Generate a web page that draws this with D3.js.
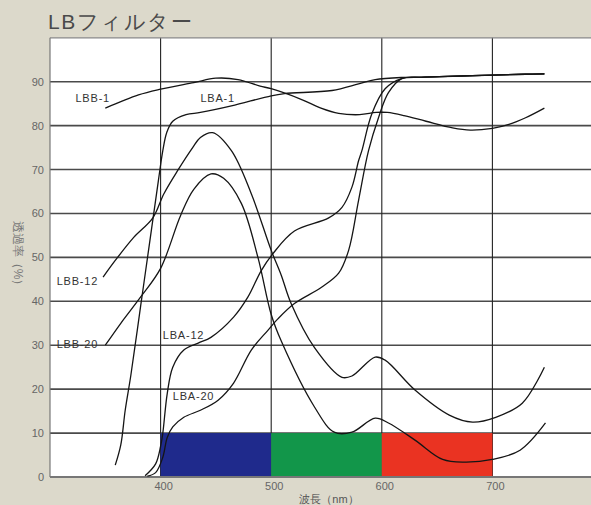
<!DOCTYPE html>
<html><head><meta charset="utf-8">
<script src="https://cdn.jsdelivr.net/npm/d3@7"></script>
<style>
html,body{margin:0;padding:0;background:#dcd9cb;}
svg{display:block;}
text{font-family:"Liberation Sans","DejaVu Sans",sans-serif;}
</style></head><body>
<svg id="c" width="591" height="505"></svg>
<script>
const title = "LBフィルター";
const xTitle = "波長（nm）";
const yTitle = "透過率（%）";
const xTicks = [400, 500, 600, 700];
const yTicks = [0, 10, 20, 30, 40, 50, 60, 70, 80, 90];

// wavelength (nm), transmittance (%)
const LBB1 = [[350,84],[380,87],[400,88.3],[430,89.8],[450,90.8],[470,90.5],[490,89],[500,88.4],[527,86],[545,84],[561,82.8],[580,82.5],[595,83],[605,83],[620,82.3],[640,81],[664,79.5],[680,79],[700,79.4],[715,80.3],[730,81.8],[747,84]];
const LBA1 = [[359,2.7],[364,7.3],[368,15.2],[373,23],[382,39],[391,55],[398,67.5],[402,74.3],[405.5,78.4],[411,81],[423,82.5],[436,83],[464,84.5],[500,86.8],[512,87.3],[555,88],[579,89.5],[594,90.5],[621,91],[645,91.1],[700,91.5],[730,91.7],[747,91.8]];
const LBB12 = [[348,45.5],[359,49.3],[375.5,54.5],[393,59],[403,64.5],[415.5,69.8],[429,75],[436,77.3],[447,78.4],[464,74.3],[482,64.5],[500,51.6],[509,46],[518,39.5],[539,29.5],[564,22.7],[573,23],[594,27.3],[603,26.6],[630,19.8],[661,14.1],[682,12.5],[703,13.6],[727,16.8],[747,25]];
const LBB20 = [[350,30],[364,35],[382,41],[400,47.5],[418,59.5],[430,65.5],[445.5,69],[457,68],[473,62.3],[488,50],[500,37],[509,31],[539,16],[557,10.2],[573,10.2],[594,13.4],[606,12.3],[630,8.4],[655,4],[675,3.4],[700,4],[725,6.1],[748,12.3]];
const LBA12 = [[386,0.3],[395.5,3],[400,7],[402,10],[406,19],[411,25],[421,28.9],[434,30.5],[445.5,31.8],[466,36.4],[479,41],[491,47],[502,51],[521,56],[552,59],[564,61.4],[573,66],[579,72],[582,74.3],[591,82.7],[603,88.4],[618,90.7],[636,91],[660,91.2],[700,91.5],[730,91.7],[747,91.8]];
const LBA20 = [[388,0.2],[395.5,1],[402,4.5],[406,9],[411,11.4],[421,13.6],[436,15.2],[452,17.5],[466,21.4],[482,28.9],[497,33.4],[506,36],[521,39.5],[545.5,43.2],[561,46.4],[570,51.6],[579,63],[588,74.3],[597,81.8],[606,87.5],[618,90.7],[636,91],[660,91.2],[700,91.5],[730,91.7],[747,91.8]];

const seriesNames = ["LBB-1","LBA-1","LBB-12","LBB-20","LBA-12","LBA-20"];
const seriesData = [LBB1, LBA1, LBB12, LBB20, LBA12, LBA20];
// label anchor (nm, %)
const labelNm = [323, 436, 306, 306, 402, 411];
const labelVal = [85.3, 85.3, 43.7, 29.4, 31.5, 17.5];

const bandNames = ["B","G","R"];
const bandStart = [400, 500, 600];
const bandEnd = [500, 600, 700];
const bandTop = [10, 10, 10];
const bandColors = ["#1f2a8c", "#12964a", "#ea3322"];

const svg = d3.select("#c");
const x = d3.scaleLinear().domain([300, 800]).range([50, 603]);
const y = d3.scaleLinear().domain([0, 100]).range([477, 37.8]);

// plot background
svg.append("rect").attr("x", x(300)).attr("y", y(100)).attr("width", 600).attr("height", y(0)-y(100)).attr("fill", "#ffffff");

// horizontal grid
svg.append("g").selectAll("line").data(yTicks.filter(d=>d>0)).join("line")
  .attr("x1", x(300)).attr("x2", 600).attr("y1", d=>y(d)).attr("y2", d=>y(d))
  .attr("stroke", "#4a4a4a").attr("stroke-width", 1.6);
// vertical grid
svg.append("g").selectAll("line").data(xTicks).join("line")
  .attr("x1", d=>x(d)).attr("x2", d=>x(d)).attr("y1", y(100)).attr("y2", y(0))
  .attr("stroke", "#222").attr("stroke-width", 1.1);
// frame
svg.append("line").attr("x1", x(300)).attr("x2", 600).attr("y1", y(100)).attr("y2", y(100)).attr("stroke", "#888").attr("stroke-width", 1.2);
svg.append("line").attr("x1", x(300)).attr("x2", x(300)).attr("y1", y(100)).attr("y2", y(0)).attr("stroke", "#777").attr("stroke-width", 1.2);

// colour bands
svg.append("g").selectAll("rect").data(bandNames).join("rect")
  .attr("x", (d,i)=>x(bandStart[i])).attr("width", (d,i)=>x(bandEnd[i])-x(bandStart[i]))
  .attr("y", (d,i)=>y(bandTop[i])).attr("height", (d,i)=>y(0)-y(bandTop[i]))
  .attr("fill", (d,i)=>bandColors[i]);

// bottom axis line
svg.append("line").attr("x1", x(300)).attr("x2", 600).attr("y1", y(0)).attr("y2", y(0)).attr("stroke", "#777").attr("stroke-width", 1.8);

// curves
const line = d3.line().x(d=>x(d[0])).y(d=>y(d[1])).curve(d3.curveCatmullRom.alpha(0.5));
svg.append("g").selectAll("path").data(seriesData).join("path")
  .attr("d", line).attr("fill", "none").attr("stroke", "#151515").attr("stroke-width", 1.3);

// curve labels
svg.append("g").selectAll("text").data(seriesNames).join("text")
  .attr("x", (d,i)=>x(labelNm[i])).attr("y", (d,i)=>y(labelVal[i]))
  .attr("font-size", 11).attr("letter-spacing", 0.8).attr("fill", "#333").text(d=>d);

// y tick labels
svg.append("g").selectAll("text").data(yTicks).join("text")
  .attr("x", 44).attr("y", d=>y(d)+4).attr("text-anchor", "end")
  .attr("font-size", 11).attr("fill", "#666").text(d=>d);
// x tick labels
svg.append("g").selectAll("text").data(xTicks).join("text")
  .attr("x", d=>x(d)+3).attr("y", 490).attr("text-anchor", "middle")
  .attr("font-size", 11).attr("fill", "#666").text(d=>d);

// titles
svg.append("text").attr("x", 48).attr("y", 29).attr("font-size", 21).attr("letter-spacing", 1.5).attr("fill", "#4a4a4a")
  .attr("font-family", "'Noto Sans CJK JP', sans-serif").text(title);
svg.append("text").attr("x", 329).attr("y", 503).attr("text-anchor", "middle").attr("font-size", 11)
  .attr("fill", "#555").attr("font-family", "'Noto Sans CJK JP', sans-serif").text(xTitle);
svg.append("text").attr("transform", "translate(14,256) rotate(90)").attr("text-anchor", "middle")
  .attr("font-size", 12).attr("fill", "#777").attr("font-family", "'Noto Sans CJK JP', sans-serif").text(yTitle);
</script></body></html>
